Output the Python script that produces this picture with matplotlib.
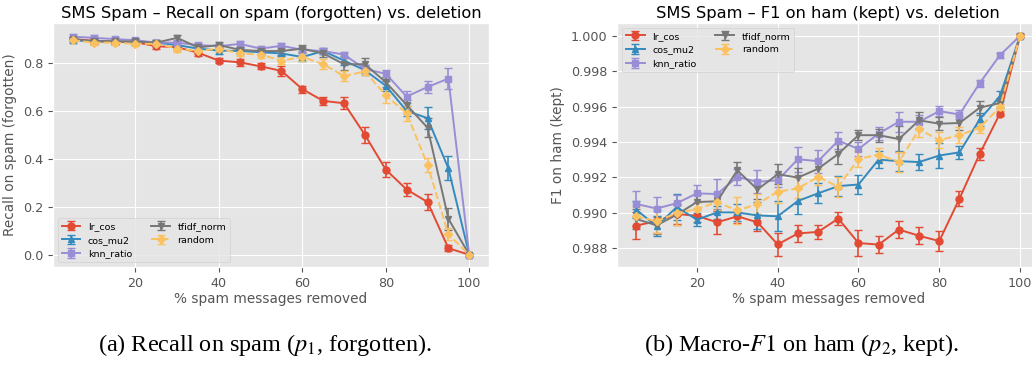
import matplotlib
matplotlib.use("Agg")
import matplotlib.pyplot as plt
import numpy as np

plt.style.use("ggplot")
plt.rcParams["mathtext.fontset"] = "stix"

# % of spam messages removed
pct = np.arange(5, 101, 5)

methods = ["lr_cos", "cos_mu2", "knn_ratio", "tfidf_norm", "random"]
markers = ["o", "^", "s", "v", "D"]
styles = ["-", "-", "-", "-", "--"]

# (a) recall on spam (forgotten)
recall = {
    "lr_cos": [0.900, 0.893, 0.890, 0.887, 0.870, 0.866, 0.843, 0.810, 0.803, 0.786,
               0.767, 0.691, 0.642, 0.632, 0.500, 0.355, 0.272, 0.220, 0.027, 0.000],
    "cos_mu2": [0.895, 0.890, 0.890, 0.888, 0.885, 0.875, 0.860, 0.852, 0.850, 0.845,
                0.840, 0.825, 0.850, 0.810, 0.770, 0.705, 0.600, 0.570, 0.360, 0.000],
    "knn_ratio": [0.910, 0.905, 0.900, 0.895, 0.885, 0.885, 0.875, 0.870, 0.880, 0.860,
                  0.872, 0.855, 0.850, 0.835, 0.775, 0.755, 0.660, 0.700, 0.735, 0.000],
    "tfidf_norm": [0.900, 0.890, 0.890, 0.890, 0.885, 0.905, 0.865, 0.875, 0.855, 0.850,
                   0.850, 0.860, 0.840, 0.795, 0.795, 0.720, 0.625, 0.530, 0.150, 0.000],
    "random": [0.895, 0.885, 0.885, 0.880, 0.880, 0.860, 0.850, 0.860, 0.840, 0.835,
               0.810, 0.825, 0.795, 0.745, 0.765, 0.665, 0.590, 0.375, 0.085, 0.000],
}
recall_err = {
    "lr_cos": [0.010, 0.010, 0.010, 0.010, 0.010, 0.010, 0.012, 0.012, 0.015, 0.012,
               0.020, 0.015, 0.018, 0.025, 0.032, 0.030, 0.028, 0.035, 0.012, 0.005],
    "cos_mu2": [0.010, 0.010, 0.010, 0.010, 0.010, 0.010, 0.010, 0.015, 0.012, 0.012,
                0.012, 0.015, 0.012, 0.020, 0.020, 0.020, 0.020, 0.045, 0.050, 0.005],
    "knn_ratio": [0.010, 0.010, 0.010, 0.010, 0.010, 0.010, 0.010, 0.010, 0.012, 0.010,
                  0.012, 0.012, 0.012, 0.012, 0.015, 0.015, 0.025, 0.025, 0.045, 0.005],
    "tfidf_norm": [0.010, 0.010, 0.010, 0.010, 0.010, 0.012, 0.012, 0.012, 0.012, 0.012,
                   0.015, 0.015, 0.015, 0.025, 0.025, 0.020, 0.020, 0.040, 0.045, 0.005],
    "random": [0.010, 0.010, 0.010, 0.010, 0.010, 0.012, 0.012, 0.012, 0.012, 0.012,
               0.015, 0.015, 0.020, 0.020, 0.015, 0.030, 0.030, 0.030, 0.025, 0.005],
}

# (b) F1 on ham (kept)
f1 = {
    "lr_cos": [0.98927, 0.98951, 0.98992, 0.98982, 0.98945, 0.98979, 0.98945, 0.98820, 0.98882, 0.98891,
               0.98966, 0.98828, 0.98819, 0.98904, 0.98869, 0.98839, 0.99079, 0.99332, 0.99559, 1.00000],
    "cos_mu2": [0.99016, 0.98923, 0.99031, 0.98960, 0.99001, 0.99001, 0.98984, 0.98979, 0.99066, 0.99109,
                0.99150, 0.99159, 0.99300, 0.99291, 0.99286, 0.99323, 0.99341, 0.99527, 0.99658, 1.00000],
    "knn_ratio": [0.99049, 0.99023, 0.99053, 0.99109, 0.99105, 0.99202, 0.99174, 0.99183, 0.99302, 0.99291,
                  0.99407, 0.99360, 0.99447, 0.99514, 0.99514, 0.99574, 0.99555, 0.99732, 0.99890, 1.00000],
    "tfidf_norm": [0.98964, 0.98928, 0.98988, 0.99060, 0.99064, 0.99239, 0.99131, 0.99217, 0.99198, 0.99248,
                   0.99332, 0.99438, 0.99438, 0.99416, 0.99522, 0.99503, 0.99507, 0.99593, 0.99620, 1.00000],
    "random": [0.98979, 0.98951, 0.98997, 0.99020, 0.99059, 0.99012, 0.99049, 0.99118, 0.99137, 0.99202,
               0.99146, 0.99304, 0.99328, 0.99286, 0.99472, 0.99410, 0.99438, 0.99481, 0.99596, 1.00000],
}
f1_err = {
    "lr_cos": [0.00074, 0.00065, 0.00056, 0.00037, 0.00065, 0.00037, 0.00047, 0.00065, 0.00047, 0.00041,
               0.00037, 0.00071, 0.00050, 0.00050, 0.00047, 0.00056, 0.00041, 0.00033, 0.00015, 0.00009],
    "cos_mu2": [0.00047, 0.00056, 0.00074, 0.00037, 0.00037, 0.00047, 0.00074, 0.00084, 0.00074, 0.00056,
                0.00056, 0.00056, 0.00047, 0.00056, 0.00047, 0.00071, 0.00037, 0.00037, 0.00028, 0.00009],
    "knn_ratio": [0.00074, 0.00065, 0.00047, 0.00047, 0.00084, 0.00047, 0.00065, 0.00037, 0.00071, 0.00065,
                  0.00047, 0.00037, 0.00037, 0.00056, 0.00037, 0.00028, 0.00028, 0.00019, 0.00015, 0.00009],
    "tfidf_norm": [0.00056, 0.00047, 0.00056, 0.00037, 0.00047, 0.00047, 0.00056, 0.00056, 0.00056, 0.00047,
                   0.00056, 0.00028, 0.00037, 0.00074, 0.00047, 0.00037, 0.00037, 0.00041, 0.00028, 0.00009],
    "random": [0.00056, 0.00065, 0.00065, 0.00037, 0.00047, 0.00074, 0.00056, 0.00065, 0.00056, 0.00047,
               0.00056, 0.00047, 0.00037, 0.00056, 0.00047, 0.00047, 0.00047, 0.00028, 0.00019, 0.00009],
}

fig = plt.figure(figsize=(10.32, 3.65), dpi=100)
ax1 = fig.add_axes([0.0514, 0.2685, 0.4225, 0.668])
ax2 = fig.add_axes([0.598, 0.2685, 0.409, 0.668])

def draw(ax, vals, errs, title, ylabel, loc):
    for m, mk, ls in zip(methods, markers, styles):
        ax.errorbar(pct, vals[m], yerr=errs[m], label=m, marker=mk, linestyle=ls,
                    markersize=5 if mk != "D" else 4, linewidth=1.4, capsize=3,
                    elinewidth=1.2)
    ax.set_title(title, fontsize=11.7, pad=4)
    ax.set_xlabel("% spam messages removed", fontsize=9.8, labelpad=2)
    ax.set_ylabel(ylabel, fontsize=9.8)
    ax.tick_params(labelsize=9.2)
    ax.legend(loc=loc, ncol=2, fontsize=6.8)

draw(ax1, recall, recall_err, "SMS Spam – Recall on spam (forgotten) vs. deletion",
     "Recall on spam (forgotten)", "lower left")
draw(ax2, f1, f1_err, "SMS Spam – F1 on ham (kept) vs. deletion",
     "F1 on ham (kept)", "upper left")

fig.text(0.257, 0.038, r"(a) Recall on spam ($p_1$, forgotten).", ha="center",
         fontsize=17.5, family="Liberation Serif", color="black")
fig.text(0.777, 0.038, r"(b) Macro-$\mathit{F1}$ on ham ($p_2$, kept).", ha="center",
         fontsize=17.5, family="Liberation Serif", color="black")

fig.savefig("out.png", dpi=100)
